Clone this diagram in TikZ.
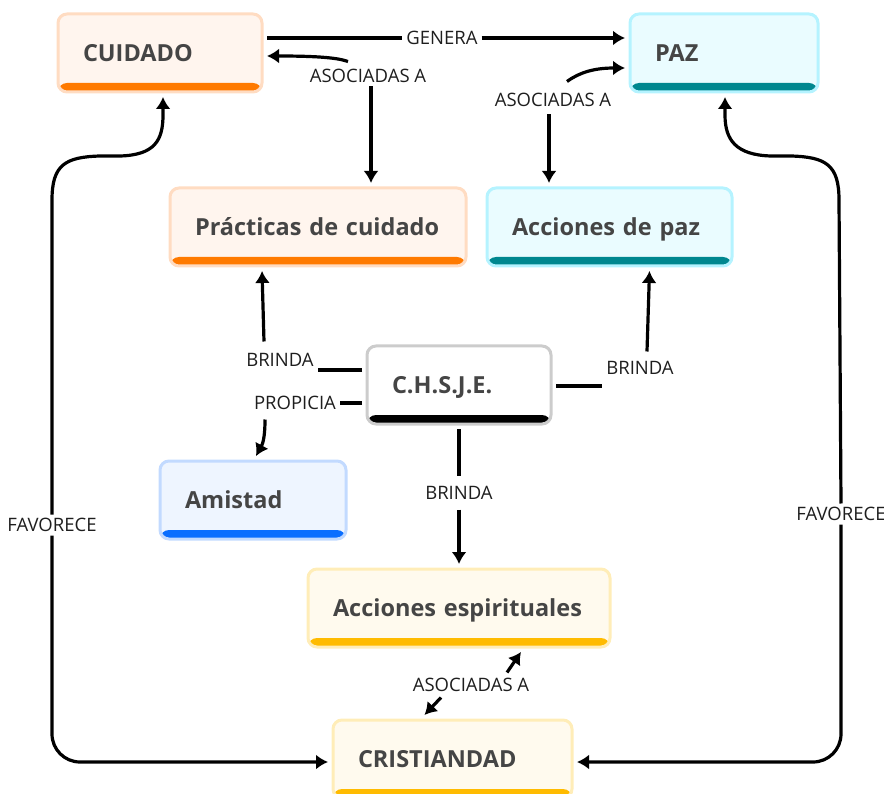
\documentclass[tikz,border=0pt]{standalone}
\usepackage{fontspec}
\setmainfont{Open Sans}
\newfontfamily\boxfont{Open Sans}
\usetikzlibrary{arrows.meta}

\definecolor{txtGray}{HTML}{454545}
\definecolor{lblGray}{HTML}{1E1E1E}
\definecolor{cuidFill}{HTML}{FFF5EE}
\definecolor{cuidLine}{HTML}{FFDCC2}
\definecolor{cuidBar}{HTML}{FF7A00}
\definecolor{pazFill}{HTML}{EAFCFF}
\definecolor{pazLine}{HTML}{B5F3FF}
\definecolor{pazBar}{HTML}{00878F}
\definecolor{colFill}{HTML}{FFFFFF}
\definecolor{colLine}{HTML}{CCCCCC}
\definecolor{colBar}{HTML}{000000}
\definecolor{amiFill}{HTML}{EEF5FF}
\definecolor{amiLine}{HTML}{C2DAFF}
\definecolor{amiBar}{HTML}{0A6EFF}
\definecolor{espFill}{HTML}{FFFAEE}
\definecolor{espLine}{HTML}{FFEDB8}
\definecolor{espBar}{HTML}{FFBB00}

\begin{document}
\begin{tikzpicture}[x=1pt, y=-1pt,
    boxStyle/.style n args={3}{rectangle, rounded corners=9pt, line width=3pt,
        fill=#1, draw=#2, inner xsep=25pt, inner ysep=0pt, minimum height=78pt,
        text height=17.5pt, text depth=0pt, align=left, outer sep=5pt,
        font=\boxfont\bfseries\fontsize{23.5}{28}\selectfont, text=txtGray,
        path picture={\fill[#3] (path picture bounding box.south west) rectangle ([yshift=9pt]path picture bounding box.south east);}},
    orangeBox/.style={boxStyle={cuidFill}{cuidLine}{cuidBar}},
    tealBox/.style={boxStyle={pazFill}{pazLine}{pazBar}},
    greyBox/.style={boxStyle={colFill}{colLine}{colBar}},
    blueBox/.style={boxStyle={amiFill}{amiLine}{amiBar}},
    yellowBox/.style={boxStyle={espFill}{espLine}{espBar}},
    labelStyle/.style={inner sep=4pt, outer sep=0pt, text=lblGray,
        text height=13pt, text depth=0pt, font=\fontsize{18.5}{21}\selectfont},
    linkStyle/.style={line width=3.2pt, black},
    arrowStyle/.style={linkStyle, -{Latex[length=12pt,width=15pt]}}]
    \useasboundingbox (0,0) rectangle (884,794);

    % conceptos
    \node[orangeBox, text width=154pt] (cuidado) at (160,53) {CUIDADO};
    \node[tealBox, text width=138pt] (paz) at (724,53) {PAZ};
    \node[orangeBox, text width=246pt] (prac) at (318,227) {Prácticas de cuidado};
    \node[tealBox, text width=195pt] (accpaz) at (609.5,227) {Acciones de paz};
    \node[greyBox, text width=134pt] (chsje) at (459,385) {C.H.S.J.E.};
    \node[blueBox, text width=136pt] (amistad) at (253,500) {Amistad};
    \node[yellowBox, text width=252pt] (esp) at (459,608) {Acciones espirituales};
    \node[yellowBox, text width=189pt] (cristiandad) at (452.5,759) {CRISTIANDAD};

    % etiquetas
    \node[labelStyle] (lGenera) at (442,38) {GENERA};
    \node[labelStyle] (lAsocCuid) at (368,76) {ASOCIADAS A};
    \node[labelStyle] (lAsocPaz) at (553,100) {ASOCIADAS A};
    \node[labelStyle] (lBrindaPra) at (280,360) {BRINDA};
    \node[labelStyle] (lPropicia) at (295,403) {PROPICIA};
    \node[labelStyle] (lBrindaAcc) at (640,368) {BRINDA};
    \node[labelStyle] (lBrindaEsp) at (459,493) {BRINDA};
    \node[labelStyle] (lAsocEsp) at (471,685) {ASOCIADAS A};
    \node[labelStyle] (lFavIzq) at (52,525) {FAVORECE};
    \node[labelStyle] (lFavDer) at (841,514) {FAVORECE};

    % relaciones
    \draw[linkStyle] ([yshift=15pt]cuidado.east) -- (lGenera);
    \draw[arrowStyle] (lGenera) -- ([yshift=15pt]paz.west);

    \draw[arrowStyle] ([xshift=-20pt,yshift=4pt]lAsocCuid.north) .. controls (338,58) and (320,56) .. ([yshift=-3pt]cuidado.east);
    \draw[arrowStyle] ([xshift=3pt]lAsocCuid.south) -- ([xshift=3pt]lAsocCuid.south |- prac.north);

    \draw[arrowStyle] ([xshift=14pt,yshift=8pt]lAsocPaz.north) .. controls (580,72) and (595,68) .. ([yshift=-15pt]paz.west);
    \draw[arrowStyle] ([xshift=-4pt,yshift=-4pt]lAsocPaz.south) -- ([xshift=-4pt]lAsocPaz.south |- accpaz.north);

    \coordinate (cwA) at ([yshift=15pt]chsje.west);
    \draw[linkStyle] (cwA) -- (cwA -| lBrindaPra.east);
    \draw[arrowStyle] ([xshift=-16pt,yshift=8pt]lBrindaPra.north) -- ([xshift=-56pt]prac.south);

    \coordinate (cwB) at ([yshift=-18pt]chsje.west);
    \draw[linkStyle] (cwB) -- (cwB -| lPropicia.east);
    \draw[arrowStyle] ([xshift=-30pt,yshift=-6pt]lPropicia.south) .. controls (265,440) and (262,445) .. ([xshift=3pt]amistad.north);

    \coordinate (ceA) at ([yshift=-1pt]chsje.east);
    \draw[linkStyle] (ceA) -- (ceA -| lBrindaAcc.west);
    \draw[arrowStyle] ([xshift=7pt,yshift=6pt]lBrindaAcc.north) -- ([xshift=40pt]accpaz.south);

    \draw[linkStyle] (chsje.south) -- ([yshift=7pt]lBrindaEsp.north);
    \draw[arrowStyle] ([yshift=-6pt]lBrindaEsp.south) -- (esp.north);

    \draw[arrowStyle] ([xshift=36pt,yshift=2pt]lAsocEsp.north) -- ([xshift=62pt]esp.south);
    \draw[arrowStyle] ([xshift=-30pt,yshift=-2pt]lAsocEsp.south) -- ([xshift=-28pt]cristiandad.north);

    \draw[arrowStyle] (lFavIzq.north) -- (52,200) .. controls (52,165) and (65,157) .. (100,156)
        -- (120,156) .. controls (155,155) and (163,140) .. (163,115) -- ([xshift=3pt]cuidado.south);
    \draw[arrowStyle, rounded corners=28pt] (lFavIzq.south) |- ([yshift=-3pt]cristiandad.west);

    \draw[arrowStyle] (lFavDer.north) -- (839,200) .. controls (839,165) and (826,157) .. (791,156)
        -- (771,156) .. controls (736,155) and (725,140) .. (725,115) -- ([xshift=1pt]paz.south);
    \draw[arrowStyle, rounded corners=28pt] (lFavDer.south) |- ([yshift=-3pt]cristiandad.east);
\end{tikzpicture}
\end{document}
